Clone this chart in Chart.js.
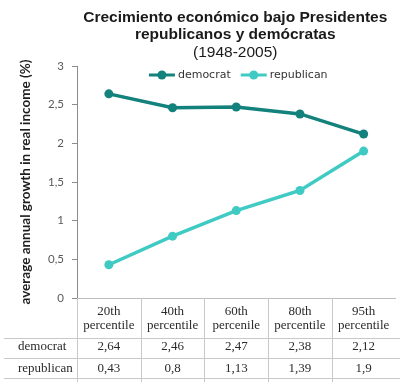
<!DOCTYPE html>
<html>
<head>
<meta charset="utf-8">
<title>Crecimiento económico bajo Presidentes republicanos y demócratas</title>
<script src="https://cdn.jsdelivr.net/npm/chart.js"></script>
<style>
    html, body { margin: 0; padding: 0; background: #fff; }
</style>
</head>
<body>
<canvas id="myChart" width="400" height="382"></canvas>

<script>
    // Data
    var categories = [['20th', 'percentile'], ['40th', 'percentile'], ['60th', 'percenile'], ['80th', 'percentile'], ['95th', 'percentile']];
    var democrat = [2.64, 2.46, 2.47, 2.38, 2.12];
    var republican = [0.43, 0.8, 1.13, 1.39, 1.9];
    var seriesNames = ['democrat', 'republican'];
    var yTicks = [0, 0.5, 1, 1.5, 2, 2.5, 3];
    var titleLines = ['Crecimiento económico bajo Presidentes', 'republicanos y demócratas'];
    var subtitle = '(1948-2005)';
    var yTitle = 'average annual growth in real income (%)';

    var demColor = '#13817c';
    var repColor = '#3fcbc3';

    function fmt(v) {
        return String(v).replace('.', ',');
    }

    // Title, legend and the data table under the axis
    var overlay = {
        id: 'overlay',
        afterDraw: function (chart) {
            var ctx = chart.ctx;
            var area = chart.chartArea;
            var x = chart.scales.x;
            var cx = (area.left + area.right) / 2;
            ctx.save();

            // title
            ctx.textAlign = 'center';
            ctx.textBaseline = 'middle';
            ctx.fillStyle = '#1a1a1a';
            ctx.font = 'bold 15.5px "Liberation Sans", Arial, sans-serif';
            ctx.fillText(titleLines[0], cx - 1, 18);
            ctx.fillText(titleLines[1], cx - 1, 35);
            ctx.font = '15.5px "Liberation Sans", Arial, sans-serif';
            ctx.fillText(subtitle, cx - 1, 53);

            // legend
            ctx.font = '11px "DejaVu Sans", Verdana, sans-serif';
            var seg = 26, gap = 3, between = 10;
            var items = chart.data.datasets.map(function (ds) {
                return { ds: ds, w: seg + gap + ctx.measureText(ds.label).width };
            });
            var total = items.reduce(function (s, it) { return s + it.w; }, 0) + between * (items.length - 1);
            var lx = cx + 2 - total / 2;
            var ly = 75;
            items.forEach(function (it) {
                ctx.strokeStyle = it.ds.borderColor;
                ctx.lineWidth = 3;
                ctx.beginPath();
                ctx.moveTo(lx, ly);
                ctx.lineTo(lx + seg, ly);
                ctx.stroke();
                ctx.fillStyle = it.ds.borderColor;
                ctx.beginPath();
                ctx.arc(lx + seg / 2, ly, 4.5, 0, Math.PI * 2);
                ctx.fill();
                ctx.fillStyle = '#333';
                ctx.textAlign = 'left';
                ctx.fillText(it.ds.label, lx + seg + gap, ly + 0.5);
                lx += it.w + between;
            });

            // data table
            var top = area.bottom;
            var rowLines = [top + 40, top + 60, top + 80];
            var half = (x.getPixelForValue(1) - x.getPixelForValue(0)) / 2;
            ctx.strokeStyle = '#c8c8c8';
            ctx.lineWidth = 1;
            ctx.beginPath();
            rowLines.forEach(function (y) {
                ctx.moveTo(4, Math.round(y) + 0.5);
                ctx.lineTo(chart.width, Math.round(y) + 0.5);
            });
            ctx.moveTo(Math.round(area.left) + 0.5, top);
            ctx.lineTo(Math.round(area.left) + 0.5, chart.height);
            for (var i = 0; i < categories.length - 1; i++) {
                var bx = Math.round(x.getPixelForValue(i) + half) + 0.5;
                ctx.moveTo(bx, top);
                ctx.lineTo(bx, chart.height);
            }
            ctx.stroke();

            ctx.fillStyle = '#2b2b2b';
            ctx.font = '13px "Liberation Serif", "Times New Roman", serif';
            ctx.textBaseline = 'middle';
            ctx.textAlign = 'center';
            categories.forEach(function (lab, i) {
                var px = x.getPixelForValue(i);
                ctx.fillText(lab[0], px, top + 14);
                ctx.fillText(lab[1], px, top + 28);
            });
            chart.data.datasets.forEach(function (ds, r) {
                var ry = top + 49 + r * 22;
                ctx.textAlign = 'left';
                ctx.fillText(ds.label, 18, ry);
                ctx.textAlign = 'center';
                ds.data.forEach(function (v, i) {
                    ctx.fillText(fmt(v), x.getPixelForValue(i), ry);
                });
            });
            ctx.restore();
        }
    };

    var ctx = document.getElementById('myChart').getContext('2d');
    var myChart = new Chart(ctx, {
        type: 'line',
        data: {
            labels: categories,
            datasets: [{
                label: seriesNames[0],
                data: democrat,
                borderColor: demColor,
                backgroundColor: demColor,
                pointBackgroundColor: demColor,
                borderWidth: 3.5,
                pointRadius: 4.5,
                pointBorderWidth: 0,
                tension: 0
            }, {
                label: seriesNames[1],
                data: republican,
                borderColor: repColor,
                backgroundColor: repColor,
                pointBackgroundColor: repColor,
                borderWidth: 3.5,
                pointRadius: 4.5,
                pointBorderWidth: 0,
                tension: 0
            }]
        },
        options: {
            responsive: false,
            animation: false,
            layout: { padding: { top: 66, bottom: 84, left: 0, right: 0 } },
            plugins: {
                legend: { display: false },
                title: { display: false },
                tooltip: { enabled: false }
            },
            scales: {
                x: {
                    type: 'category',
                    offset: true,
                    ticks: { display: false },
                    grid: { display: false },
                    border: { color: '#bdbdbd' },
                    afterFit: function (scale) { scale.height = 0; }
                },
                y: {
                    min: 0,
                    max: 3,
                    afterBuildTicks: function (scale) {
                        scale.ticks = yTicks.map(function (v) { return { value: v }; });
                    },
                    ticks: {
                        padding: 8,
                        color: '#595959',
                        font: { family: 'Lato, "Liberation Sans", sans-serif', size: 11.5 },
                        callback: function (v) { return fmt(v); }
                    },
                    grid: {
                        drawOnChartArea: false,
                        drawTicks: true,
                        tickLength: 5,
                        color: '#8c8c8c'
                    },
                    border: { color: '#8c8c8c' },
                    title: {
                        display: true,
                        text: yTitle,
                        color: '#1e1e1e',
                        font: { family: 'Lato, "Liberation Sans", sans-serif', size: 13.5, weight: 'bold' },
                        padding: { top: 18, bottom: 0 }
                    },
                    afterFit: function (scale) { scale.width = 77; }
                }
            }
        },
        plugins: [overlay]
    });
</script>
</body>
</html>
